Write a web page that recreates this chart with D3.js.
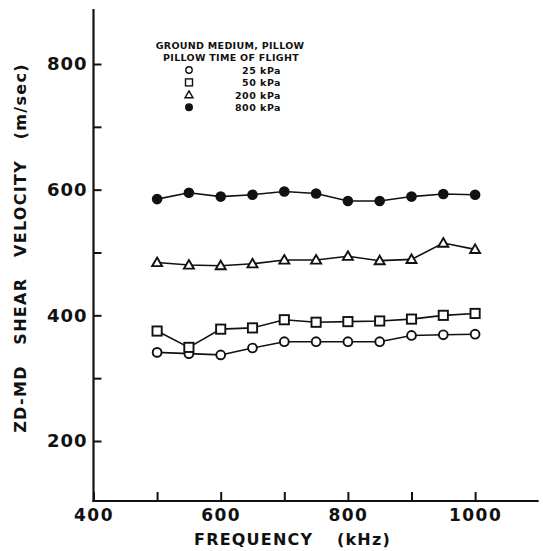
<!DOCTYPE html>
<html>
<head>
<meta charset="utf-8">
<script src="https://cdn.jsdelivr.net/npm/d3@7"></script>
<style>
  body { margin: 0; background: #fff; }
  text { font-family: "DejaVu Sans", sans-serif; font-weight: bold; fill: #111; }
</style>
</head>
<body>
<script>
// frequency (kHz) and ZD-MD shear velocity (m/sec) per pillow pressure
const frequency = [500, 550, 600, 650, 700, 750, 800, 850, 900, 950, 1000];
const kpa25  = [341, 339, 337, 348, 358, 358, 358, 358, 368, 369, 370];
const kpa50  = [375, 349, 378, 380, 393, 389, 390, 391, 394, 400, 403];
const kpa200 = [484, 480, 479, 482, 488, 488, 494, 487, 489, 515, 505];
const kpa800 = [585, 595, 589, 592, 597, 594, 582, 582, 589, 593, 592];

const seriesNames = ["25 kPa", "50 kPa", "200 kPa", "800 kPa"];
const seriesSymbols = ["circle", "square", "triangle", "dot"];
const xTicks = [400, 500, 600, 700, 800, 900, 1000];
const xLabels = [400, 600, 800, 1000];
const yTicks = [200, 300, 400, 500, 600, 700, 800];
const yLabels = [200, 400, 600, 800];

const W = 543, H = 551;
const svg = d3.select("body").append("svg")
    .attr("width", W)
    .attr("height", H);

const x = d3.scaleLinear().domain([400, 1100]).range([93.5, 538.7]);
const y = d3.scaleLinear().domain([200, 800]).range([441, 64]);
const axisY = 501, axisX = 93.5;

// axes
const xAxis = d3.axisBottom(x)
    .tickValues(xTicks)
    .tickSizeInner(-9)
    .tickSizeOuter(0)
    .tickPadding(8)
    .tickFormat(d => xLabels.includes(d) ? d : "");
const gx = svg.append("g").attr("transform", `translate(0,${axisY})`).call(xAxis);
gx.select(".domain").remove();
gx.selectAll("line").attr("stroke", "#111").attr("stroke-width", 2);
gx.selectAll("text").attr("font-size", 17).attr("letter-spacing", 1.5)
  .attr("fill", "#111").attr("font-family", "DejaVu Sans");

const yAxis = d3.axisLeft(y)
    .tickValues(yTicks)
    .tickSizeInner(-8)
    .tickSizeOuter(0)
    .tickPadding(6)
    .tickFormat(d => yLabels.includes(d) ? d : "");
const gy = svg.append("g").attr("transform", `translate(${axisX},0)`).call(yAxis);
gy.select(".domain").remove();
gy.selectAll("line").attr("stroke", "#111").attr("stroke-width", 2);
gy.selectAll("text").attr("font-size", 18).attr("letter-spacing", 1)
  .attr("fill", "#111").attr("font-family", "DejaVu Sans");

svg.append("line")
    .attr("x1", axisX).attr("x2", axisX)
    .attr("y1", 9).attr("y2", axisY + 1)
    .attr("stroke", "#111").attr("stroke-width", 2.2);
svg.append("line")
    .attr("x1", axisX - 1).attr("x2", x(1100))
    .attr("y1", axisY).attr("y2", axisY)
    .attr("stroke", "#111").attr("stroke-width", 2.2);

// axis titles
const xt = svg.append("text")
    .attr("x", 194).attr("y", 545)
    .attr("font-size", 16)
    .attr("letter-spacing", 1.2);
xt.append("tspan").text("FREQUENCY");
xt.append("tspan").attr("x", 337).text("(kHz)");

svg.append("text")
    .attr("transform", "translate(26,248) rotate(-90)")
    .attr("text-anchor", "middle")
    .attr("font-size", 16)
    .attr("letter-spacing", 1.3)
    .attr("xml:space", "preserve")
    .text("ZD-MD   SHEAR   VELOCITY   (m/sec)");

// markers
function drawSymbol(g, type, cx, cy) {
  if (type === "circle") {
    g.append("circle").attr("cx", cx).attr("cy", cy).attr("r", 4.4)
      .attr("fill", "#fff").attr("stroke", "#111").attr("stroke-width", 1.9);
  } else if (type === "square") {
    g.append("rect").attr("x", cx - 4.6).attr("y", cy - 4.6).attr("width", 9.2).attr("height", 9.2)
      .attr("fill", "#fff").attr("stroke", "#111").attr("stroke-width", 1.9);
  } else if (type === "triangle") {
    g.append("path")
      .attr("d", `M${cx},${cy - 5}L${cx + 5},${cy + 3.6}L${cx - 5},${cy + 3.6}Z`)
      .attr("fill", "#fff").attr("stroke", "#111").attr("stroke-width", 1.9);
  } else {
    g.append("circle").attr("cx", cx).attr("cy", cy).attr("r", 5.3)
      .attr("fill", "#111");
  }
}

const seriesValues = [kpa25, kpa50, kpa200, kpa800];
const line = d3.line().x(d => x(d[0])).y(d => y(d[1]));

seriesValues.forEach((vals, i) => {
  const pts = frequency.map((f, j) => [f, vals[j]]);
  svg.append("path")
      .attr("d", line(pts))
      .attr("fill", "none")
      .attr("stroke", "#111")
      .attr("stroke-width", 1.6);
  const g = svg.append("g");
  pts.forEach(p => drawSymbol(g, seriesSymbols[i], x(p[0]), y(p[1])));
});

// legend
const lg = svg.append("g");
lg.append("text").attr("x", 230).attr("y", 49).attr("text-anchor", "middle")
  .attr("font-size", 9.5).attr("letter-spacing", 0.3).text("GROUND MEDIUM, PILLOW");
lg.append("text").attr("x", 231).attr("y", 61).attr("text-anchor", "middle")
  .attr("font-size", 9.5).attr("letter-spacing", 0.3).text("PILLOW TIME OF FLIGHT");
seriesNames.forEach((name, i) => {
  const ly = 70 + i * 12.4;
  const g = lg.append("g");
  if (seriesSymbols[i] === "dot") {
    g.append("circle").attr("cx", 189).attr("cy", ly).attr("r", 4).attr("fill", "#111");
  } else if (seriesSymbols[i] === "circle") {
    g.append("circle").attr("cx", 189).attr("cy", ly).attr("r", 3.2)
      .attr("fill", "#fff").attr("stroke", "#111").attr("stroke-width", 1.4);
  } else if (seriesSymbols[i] === "square") {
    g.append("rect").attr("x", 185.5).attr("y", ly - 3.5).attr("width", 7).attr("height", 7)
      .attr("fill", "#fff").attr("stroke", "#111").attr("stroke-width", 1.4);
  } else {
    g.append("path").attr("d", `M189,${ly - 4}L193,${ly + 3}L185,${ly + 3}Z`)
      .attr("fill", "#fff").attr("stroke", "#111").attr("stroke-width", 1.4);
  }
  lg.append("text").attr("x", 281).attr("y", ly + 3.7).attr("text-anchor", "end")
    .attr("font-size", 9.5).attr("letter-spacing", 0.5).text(name);
});
</script>
</body>
</html>
